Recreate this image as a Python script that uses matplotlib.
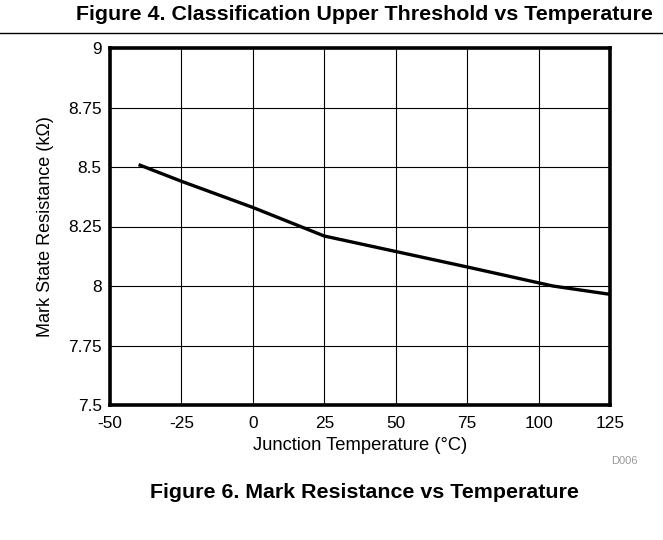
import matplotlib
matplotlib.use("Agg")
import matplotlib.pyplot as plt
from matplotlib.lines import Line2D

plt.rcParams['font.family'] = ['Liberation Sans', 'DejaVu Sans']

temps = [-40, -25, 0, 25, 50, 75, 105, 125]
resistance = [8.51, 8.44, 8.33, 8.21, 8.145, 8.08, 8.0, 7.965]
xticks = [-50, -25, 0, 25, 50, 75, 100, 125]
yticks = [7.5, 7.75, 8, 8.25, 8.5, 8.75, 9]
yticklabels = ["7.5", "7.75", "8", "8.25", "8.5", "8.75", "9"]

W, H = 663, 540
fig = plt.figure(figsize=(W / 100, H / 100), dpi=100)
ax = fig.add_axes([110 / W, 135 / H, 500 / W, 357 / H])
ax.plot(temps, resistance, color='black', lw=2.4, solid_capstyle='butt')
ax.set_xlim(-50, 125)
ax.set_ylim(7.5, 9)
ax.set_xticks(xticks)
ax.set_xticklabels([str(t) for t in xticks])
ax.set_yticks(yticks)
ax.set_yticklabels(yticklabels)
ax.grid(True, color='black', lw=0.8)
ax.tick_params(length=0, labelsize=12.4)
ax.tick_params(axis='x', pad=8)
ax.tick_params(axis='y', pad=6)
for s in ax.spines.values():
    s.set_linewidth(2.6)
ax.set_xlabel("Junction Temperature (°C)", fontsize=13.2, labelpad=4)
ax.set_ylabel("Mark State Resistance (kΩ)", fontsize=13, labelpad=10)

fig.text(653 / W, 1 - 15 / H, "Figure 4. Classification Upper Threshold vs Temperature",
         ha='right', va='center', fontsize=15.4, fontweight='bold')
fig.add_artist(Line2D([0, 1], [1 - 33 / H, 1 - 33 / H], transform=fig.transFigure,
                      color='black', lw=1))
fig.text(638 / W, 1 - 461 / H, "D006", ha='right', va='center', fontsize=8, color='#999999')
fig.text(364 / W, 1 - 492 / H, "Figure 6. Mark Resistance vs Temperature",
         ha='center', va='center', fontsize=15.4, fontweight='bold')

fig.savefig("out.png", dpi=100)
